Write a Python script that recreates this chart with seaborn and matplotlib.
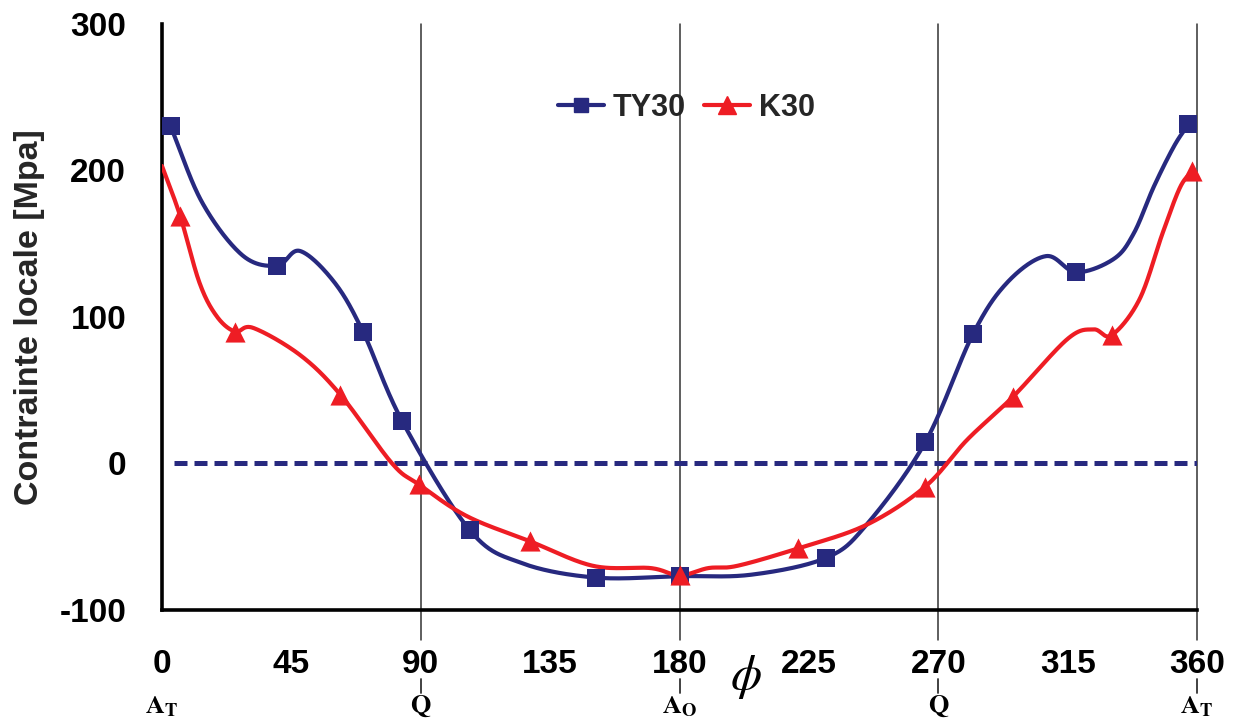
import numpy as np
import pandas as pd
import matplotlib
matplotlib.use("Agg")
import matplotlib.pyplot as plt
from matplotlib.lines import Line2D
import seaborn as sns

# --- data ---
# TY30 markers
ty30_phi = [3, 40, 70, 83.5, 107, 151, 180, 231, 265.5, 282, 318, 357]
ty30_val = [230, 135, 89.5, 29, -45.5, -78, -77, -64.5, 14.5, 88, 130.5, 231.5]
# TY30 smoothed curve, traced points
ty30_curve_phi = [3, 14, 28, 40, 48, 60, 70, 83.5, 107, 125, 151, 180, 205,
                  231, 245, 265.5, 282, 294, 307.5, 318, 331, 338, 345, 352, 357]
ty30_curve_val = [230, 178, 142, 135, 145, 123.5, 89.5, 29, -45.5, -68, -78, -77, -76,
                  -64.5, -42, 14.5, 88, 123.5, 141.5, 130.5, 139.5, 157, 189, 216.5, 231.5]

# K30 markers
k30_phi = [6.3, 25.4, 62, 89.4, 128, 180, 221.3, 265.4, 296, 330.3, 358.2]
k30_val = [169, 90, 47, -14.4, -53.2, -76.5, -58, -16, 45.5, 87.5, 199.5]
# K30 smoothed curve, traced points
k30_curve_phi = [0, 6.3, 13, 19, 25.4, 31.7, 48, 62, 80, 89.4, 106, 128, 150, 170, 180,
                 190, 200, 221.3, 245, 265.4, 280, 296, 315, 324, 330.3, 340, 348, 354,
                 358.2]
k30_curve_val = [203, 169, 123.5, 100.5, 90, 92.5, 74, 47, 0, -14.4, -36, -53.2, -70, -71.5,
                 -76.5, -71.5, -70, -58, -42, -16, 16, 45.5, 85, 91.5, 87.5, 112, 157, 188,
                 199.5]

x_ticks = [0, 45, 90, 135, 180, 225, 270, 315, 360]
y_ticks = [-100, 0, 100, 200, 300]
ref_phi = [90, 180, 270, 360]
point_phi = [0, 90, 180, 270, 360]
point_names = [r"$\mathbf{A}_{\mathbf{T}}$", r"$\mathbf{Q}$", r"$\mathbf{A}_{\mathbf{O}}$",
               r"$\mathbf{Q}$", r"$\mathbf{A}_{\mathbf{T}}$"]

BLUE = "#27297f"
RED = "#ee1d24"


def smooth(xs, ys, n=40):
    # Catmull-Rom spline through the traced points (like a smoothed line in a spreadsheet)
    p = np.column_stack([xs, ys]).astype(float)
    ext = np.vstack([2 * p[0] - p[1], p, 2 * p[-1] - p[-2]])
    t = np.linspace(0, 1, n, endpoint=False)[:, None]
    h00 = 2 * t**3 - 3 * t**2 + 1
    h10 = t**3 - 2 * t**2 + t
    h01 = -2 * t**3 + 3 * t**2
    h11 = t**3 - t**2
    out = []
    for i in range(1, len(ext) - 2):
        p0, p1, p2, p3 = ext[i - 1], ext[i], ext[i + 1], ext[i + 2]
        m1 = (p2 - p0) / 2
        m2 = (p3 - p1) / 2
        out.append(h00 * p1 + h10 * m1 + h01 * p2 + h11 * m2)
    out.append(p[-1][None])
    return np.vstack(out)


sns.set_style("white")
plt.rcParams["font.family"] = ["Liberation Sans", "DejaVu Sans"]
plt.rcParams["mathtext.fontset"] = "stix"
plt.rcParams["axes.unicode_minus"] = False

fig = plt.figure(figsize=(12.33, 7.26), dpi=100)
ax = fig.add_axes([0.1314, 0.16, 0.8394, 0.807])

# reference verticals, extended a bit below the axis
for x in ref_phi:
    ax.plot([x, x], [-0.051, 1], transform=ax.get_xaxis_transform(), color="#333333",
            lw=1.1, clip_on=False, zorder=1)
    ax.plot([x, x], [-0.118, -0.142], transform=ax.get_xaxis_transform(), color="#333333",
            lw=1.3, clip_on=False, zorder=1)

# zero line
ax.hlines(0, 4, 360, colors=BLUE, linestyles=(0, (2.6, 1.4)), lw=3.6, zorder=2)

# smoothed curves
c = smooth(ty30_curve_phi, ty30_curve_val)
ax.plot(c[:, 0], c[:, 1], color=BLUE, lw=3, zorder=3, solid_capstyle="round")
c = smooth(k30_curve_phi, k30_curve_val)
ax.plot(c[:, 0], c[:, 1], color=RED, lw=3, zorder=4, solid_capstyle="round")

# markers
ty = pd.DataFrame({"phi": ty30_phi, "val": ty30_val})
k = pd.DataFrame({"phi": k30_phi, "val": k30_val})
sns.scatterplot(data=ty, x="phi", y="val", marker="s", s=150, color=BLUE, linewidth=0,
                legend=False, ax=ax, zorder=5, clip_on=False)
sns.scatterplot(data=k, x="phi", y="val", marker="^", s=210, color=RED, linewidth=0,
                legend=False, ax=ax, zorder=6, clip_on=False)

ax.set_xlim(0, 360)
ax.set_ylim(-100, 300)
ax.set_xticks(x_ticks)
ax.set_yticks(y_ticks)
ax.set_xlabel("")
ax.set_ylabel("Contrainte locale [Mpa]", fontsize=24.5, fontweight="bold")
ax.yaxis.set_label_coords(-0.113, 0.5)

for s in ["top", "right"]:
    ax.spines[s].set_visible(False)
for s in ["left", "bottom"]:
    ax.spines[s].set_linewidth(2.6)
    ax.spines[s].set_color("black")

ax.tick_params(axis="x", direction="out", length=9.4, width=2.2, pad=19,
               labelsize=24, colors="black")
ax.tick_params(axis="y", direction="out", length=10.8, width=2.2, pad=15,
               labelsize=24, colors="black")
for lab in ax.get_xticklabels() + ax.get_yticklabels():
    lab.set_fontweight("bold")

# point names under the axis
for x, name in zip(point_phi, point_names):
    ax.text(x, -0.165, name, transform=ax.get_xaxis_transform(), ha="center", va="center",
            fontsize=19, color="black")

# phi symbol
ax.text(203, -0.115, r"$\phi$", transform=ax.get_xaxis_transform(), ha="center",
        va="center", fontsize=36, color="black")

handles = [Line2D([0], [0], color=BLUE, lw=3, marker="s", ms=10),
           Line2D([0], [0], color=RED, lw=3, marker="^", ms=13)]
ax.legend(handles, ["TY30", "K30"], loc="center", bbox_to_anchor=(0.507, 0.857), ncol=2,
          frameon=False, prop={"size": 22, "weight": "bold"}, handlelength=1.5,
          handletextpad=0.3, columnspacing=0.6)

fig.savefig("out.png", dpi=100, facecolor="white")
